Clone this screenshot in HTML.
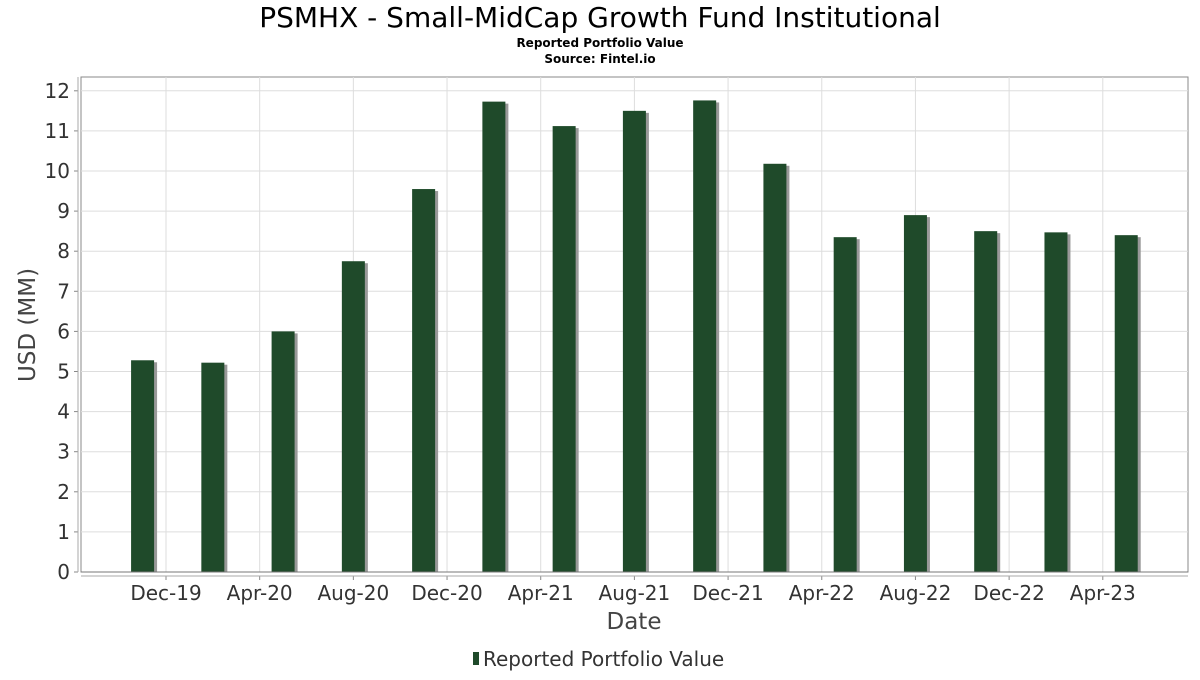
<!DOCTYPE html>
<html><head><meta charset="utf-8"><style>
body{margin:0;background:#fff;}
svg text{font-family:"DejaVu Sans","Liberation Sans",sans-serif;fill:#333;}
</style></head><body>
<svg id="chart" width="1200" height="675" xmlns="http://www.w3.org/2000/svg">
<text x="600" y="27" text-anchor="middle" font-size="28" style="fill:#000">PSMHX - Small-MidCap Growth Fund Institutional</text>
<text x="600" y="47" text-anchor="middle" font-size="12" font-weight="bold" style="fill:#000">Reported Portfolio Value</text>
<text x="600" y="63" text-anchor="middle" font-size="12" font-weight="bold" style="fill:#000">Source: Fintel.io</text>
<g id="grid"></g>
<g id="bars"></g>
<g id="axes"></g>
<text transform="translate(35,325) rotate(-90)" text-anchor="middle" font-size="23" style="fill:#444">USD (MM)</text>
<text x="634" y="629" text-anchor="middle" font-size="23" style="fill:#444">Date</text>
<g>
<rect x="473" y="652" width="6" height="13" fill="#1f4a2a"/>
<text x="483" y="666" font-size="20" style="fill:#333">Reported Portfolio Value</text>
</g>
</svg>
<script>
const barMonths=[-1,2,5,8,11,14,17,20,23,26,29,32,35,38,41];
const barValues=[5.28,5.22,6.0,7.75,9.55,11.73,11.12,11.5,11.76,10.18,8.35,8.9,8.5,8.47,8.4];
const xTickLabels=["Dec-19","Apr-20","Aug-20","Dec-20","Apr-21","Aug-21","Dec-21","Apr-22","Aug-22","Dec-22","Apr-23"];
const xTickMonths=[0,4,8,12,16,20,24,28,32,36,40];
const yTicks=[0,1,2,3,4,5,6,7,8,9,10,11,12];
const NS="http://www.w3.org/2000/svg";
const L=81,R=1188,T=77,B=572;
const xs=m=>166+m*23.42;
const ys=v=>572-v*40.1;
function mk(tag,attrs,parent){const e=document.createElementNS(NS,tag);for(const k in attrs)e.setAttribute(k,attrs[k]);parent.appendChild(e);return e;}
const grid=document.getElementById('grid'),bars=document.getElementById('bars'),axes=document.getElementById('axes');
mk('rect',{x:L,y:T,width:R-L,height:B-T,fill:'#fff',stroke:'#888','stroke-width':1},grid);
yTicks.forEach(v=>{
  const y=ys(v);
  const g=mk('line',{x1:L,x2:R,y1:y,y2:y,stroke:'#ddd'},grid);
  
  
  mk('line',{x1:74,x2:78,y1:y,y2:y,stroke:'#888'},axes);
  const t=mk('text',{x:70,y:y+7,'text-anchor':'end','font-size':20},axes);
  t.textContent=v;
  
  
});
xTickMonths.forEach((m,i)=>{
  const x=xs(m);
  const g=mk('line',{x1:x,x2:x,y1:T,y2:B,stroke:'#ddd'},grid);
  
  
  mk('line',{x1:x,x2:x,y1:576,y2:580,stroke:'#888'},axes);
  const t=mk('text',{x:x,y:600,'text-anchor':'middle','font-size':20},axes);
  t.textContent=xTickLabels[i];
  
  
});
mk('line',{x1:78,x2:78,y1:T,y2:B,stroke:'#aaa'},axes);
mk('line',{x1:L,x2:R,y1:B,y2:B,stroke:'#777'},axes);
mk('line',{x1:L,x2:R,y1:576,y2:576,stroke:'#aaa'},axes);
barValues.forEach((v,i)=>{
  const cx=xs(barMonths[i]),w=23,y=ys(v);
  const s=mk('rect',{x:cx-w/2+3,y:y+2,width:w,height:B-y-2,fill:'#999'},bars);
  
  
  const b=mk('rect',{x:cx-w/2,y:y,width:w,height:B-y,fill:'#1f4a2a'},bars);
  
  
});
</script>
</body></html>
